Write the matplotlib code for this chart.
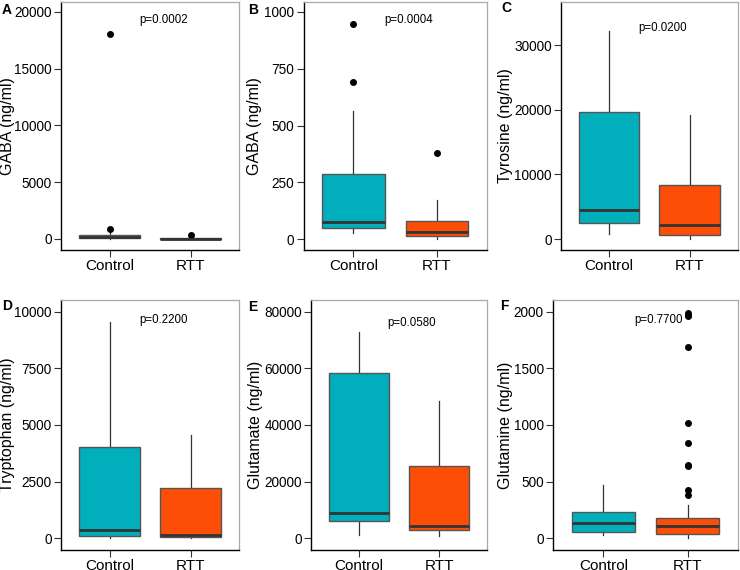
import matplotlib
matplotlib.use("Agg")
from matplotlib import pyplot as plt

plt.rcParams['font.family'] = ['Liberation Sans', 'DejaVu Sans']

groups = ["Control", "RTT"]
colors = ["#00AFBB", "#FC4E07"]

panel_letters = ["A", "B", "C", "D", "E", "F"]
ylabels = ["GABA (ng/ml)", "GABA (ng/ml)", "Tyrosine (ng/ml)",
           "Tryptophan (ng/ml)", "Glutamate (ng/ml)", "Glutamine (ng/ml)"]
pvalues = ["p=0.0002", "p=0.0004", "p=0.0200", "p=0.2200", "p=0.0580", "p=0.7700"]
pvalue_y = [19300, 964, 32600, 9630, 75900, 1927]

# box stats per panel: [control, rtt] -> (whislo, q1, med, q3, whishi)
box_stats = [
    [(25, 60, 180, 370, 560), (0, 12, 30, 78, 170)],
    [(25, 50, 75, 285, 565), (0, 12, 30, 78, 170)],
    [(800, 2500, 4500, 19700, 32200), (0, 600, 2100, 8400, 19200)],
    [(0, 80, 350, 4030, 9550), (0, 50, 130, 2200, 4550)],
    [(1000, 6000, 8800, 58200, 72800), (800, 2800, 4500, 25500, 48500)],
    [(30, 55, 135, 235, 470), (0, 40, 105, 175, 295)],
]
outliers = [
    [[880, 18100], [380]],
    [[690, 945], [380]],
    [[], []],
    [[], []],
    [[], []],
    [[], [385, 430, 635, 645, 840, 1020, 1690, 1960, 1975, 1990]],
]
yticks = [
    [0, 5000, 10000, 15000, 20000],
    [0, 250, 500, 750, 1000],
    [0, 10000, 20000, 30000],
    [0, 2500, 5000, 7500, 10000],
    [0, 20000, 40000, 60000, 80000],
    [0, 500, 1000, 1500, 2000],
]
ylims = [(-970, 20880), (-48, 1044), (-1700, 36650),
         (-516, 10516), (-4130, 84130), (-103, 2103)]

# layout in pixels
W, H = 740, 570
boxes_px = [(61, 239.3, 2, 250), (303.5, 486.7, 2, 250), (560.7, 738, 2, 250),
            (61, 239.3, 300, 550), (311, 487, 300, 550), (552.7, 738.3, 300, 550)]
ylabel_x = [15, 261.7, 513.3, 15, 263.3, 512.7]  # right edge of rotated label
letter_pos = [(2, 10), (248, 10), (501, 8), (2, 306), (248, 307), (500, 306)]

fig = plt.figure(figsize=(7.4, 5.7), dpi=100)

for i in range(6):
    l, r, t, b = boxes_px[i]
    ax = fig.add_axes([l / W, 1 - b / H, (r - l) / W, (b - t) / H])

    stats = []
    for j in range(2):
        lo, q1, med, q3, hi = box_stats[i][j]
        stats.append(dict(whislo=lo, q1=q1, med=med, q3=q3, whishi=hi,
                          fliers=outliers[i][j], label=groups[j]))

    bp = ax.bxp(stats, positions=[1, 2], widths=0.75, patch_artist=True,
                showcaps=False,
                boxprops=dict(edgecolor="#555555", linewidth=1.0),
                medianprops=dict(color="#333333", linewidth=2.0),
                whiskerprops=dict(color="#333333", linewidth=0.9),
                flierprops=dict(marker="o", markerfacecolor="black",
                                markeredgecolor="black", markersize=4))
    for patch, c in zip(bp["boxes"], colors):
        patch.set_facecolor(c)
    for w in bp["whiskers"]:
        w.set_zorder(1)

    ax.set_xlim(0.4, 2.6)
    ax.set_ylim(*ylims[i])
    ax.set_yticks(yticks[i])
    ax.set_xticks([1, 2])
    ax.set_xticklabels(groups)
    ax.tick_params(axis="both", length=5, color="#333333",
                   labelcolor="black", pad=1.5)
    ax.tick_params(axis="x", labelsize=11)
    ax.tick_params(axis="y", labelsize=9.8)
    ax.set_ylabel(ylabels[i], fontsize=11.5)
    ax.yaxis.set_label_coords((ylabel_x[i] - l) / (r - l), 0.5)

    for side in ["top", "right"]:
        ax.spines[side].set_color("#aaaaaa")
        ax.spines[side].set_linewidth(0.9)
    for side in ["left", "bottom"]:
        ax.spines[side].set_color("black")
        ax.spines[side].set_linewidth(1.0)

    ax.text(1.66, pvalue_y[i], pvalues[i], ha="center", va="center", fontsize=8.3)

    lx, ly = letter_pos[i]
    fig.text(lx / W, 1 - ly / H, panel_letters[i], fontsize=10, fontweight="bold",
             ha="left", va="center")

plt.savefig("out.png")
